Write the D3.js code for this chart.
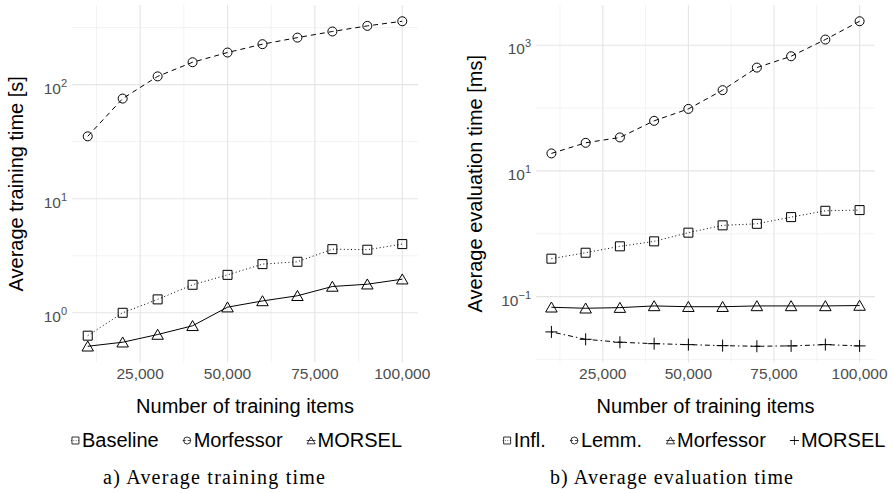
<!DOCTYPE html>
<html>
<head>
<meta charset="utf-8">
<script src="https://cdn.jsdelivr.net/npm/d3@7"></script>
<style>
  body { margin: 0; background: #fff; }
  svg { display: block; font-family: "Liberation Sans", Arial, sans-serif; }
</style>
</head>
<body>
<svg id="chart" width="893" height="493"></svg>
<script>
// Number of training items (shared x values)
const items = [10000, 20000, 30000, 40000, 50000, 60000, 70000, 80000, 90000, 100000];
const xTicks = [25000, 50000, 75000, 100000];
const xMinor = [12500, 37500, 62500, 87500];

// a) Average training time [s]
const trainBaseline = [0.63, 1.0, 1.31, 1.76, 2.15, 2.67, 2.80, 3.61, 3.57, 4.0];
const trainMorfessor = [35.2, 75.4, 118, 157, 191, 226, 258, 292, 327, 359];
const trainMorsel = [0.509, 0.552, 0.645, 0.769, 1.12, 1.27, 1.41, 1.70, 1.78, 1.97];
const trainYTicks = [0, 1, 2];          // exponents
const trainYMinor = [0.5, 1.5, 2.5];

// b) Average evaluation time [ms]
const evalInfl = [0.401, 0.499, 0.631, 0.757, 1.04, 1.36, 1.44, 1.84, 2.32, 2.38];
const evalLemm = [19.0, 28.0, 34.1, 62.7, 97, 193, 441, 668, 1232, 2410];
const evalMorfessor = [0.0676, 0.0652, 0.0667, 0.071, 0.069, 0.069, 0.071, 0.071, 0.071, 0.072];
const evalMorsel = [0.0274, 0.0209, 0.01875, 0.0178, 0.0172, 0.01656, 0.0162, 0.0164, 0.0172, 0.0164];
const evalYTicks = [-1, 1, 3];
const evalYMinor = [-2, 0, 2];

const svg = d3.select("#chart");

// marker shapes, drawn as open outlines
const shapes = {
  square: s => `M${-s},${-s}H${s}V${s}H${-s}Z`,
  circle: s => `M${s},0A${s},${s} 0 1,1 ${-s},0A${s},${s} 0 1,1 ${s},0Z`,
  triangle: s => `M0,${-s * 1.05}L${s * 1.15},${s * 0.95}L${-s * 1.15},${s * 0.95}Z`,
  plus: s => `M${-s},0H${s}M0,${-s}V${s}`
};
const dashes = { dotted: "1,2.6", dashed: "5,4", solid: null, dotdash: "1.5,3,5,3" };

function drawPanel(p) {
  const g = svg.append("g");

  // x scale with ggplot-like 5% expansion
  const xr = d3.extent(items), xpad = (xr[1] - xr[0]) * 0.05;
  const x = d3.scaleLinear().domain([xr[0] - xpad, xr[1] + xpad]).range([p.left, p.right]);

  const all = p.series.flatMap(s => s.values);
  const lr = d3.extent(all, v => Math.log10(v)), lpad = (lr[1] - lr[0]) * 0.05;
  const y = d3.scaleLog().domain([Math.pow(10, lr[0] - lpad), Math.pow(10, lr[1] + lpad)]).range([p.bottom, p.top]);

  // grid
  const grid = g.append("g");
  grid.selectAll(".xmin").data(xMinor).join("line")
    .attr("x1", d => x(d)).attr("x2", d => x(d)).attr("y1", p.top).attr("y2", p.bottom)
    .attr("stroke", "#ebebeb").attr("stroke-width", 0.6);
  grid.selectAll(".ymin").data(p.yMinor).join("line")
    .attr("y1", d => y(Math.pow(10, d))).attr("y2", d => y(Math.pow(10, d))).attr("x1", p.left).attr("x2", p.right)
    .attr("stroke", "#ebebeb").attr("stroke-width", 0.6);
  grid.selectAll(".xmaj").data(xTicks).join("line")
    .attr("x1", d => x(d)).attr("x2", d => x(d)).attr("y1", p.top).attr("y2", p.bottom)
    .attr("stroke", "#e4e4e4").attr("stroke-width", 1.1);
  grid.selectAll(".ymaj").data(p.yTicks).join("line")
    .attr("y1", d => y(Math.pow(10, d))).attr("y2", d => y(Math.pow(10, d))).attr("x1", p.left).attr("x2", p.right)
    .attr("stroke", "#e4e4e4").attr("stroke-width", 1.1);

  // x tick labels
  g.selectAll(".xlab").data(xTicks).join("text")
    .attr("x", d => x(d)).attr("y", p.bottom + 16)
    .attr("text-anchor", "middle").attr("font-size", 15.5).attr("fill", "#4d4d4d")
    .text(d3.format(","));

  // y tick labels (10^k)
  const yl = g.selectAll(".ylab").data(p.yTicks).join("text")
    .attr("y", d => y(Math.pow(10, d)) + 9)
    .attr("x", p.left - 5)
    .attr("text-anchor", "end").attr("font-size", 15.5).attr("fill", "#4d4d4d");
  yl.append("tspan").text("10");
  yl.append("tspan").attr("dy", -7).attr("font-size", 11).text(d => d < 0 ? "\u2212" + (-d) : d);

  // axis titles
  g.append("text")
    .attr("transform", `translate(${p.titleX},${(p.top + p.bottom) / 2}) rotate(-90)`)
    .attr("text-anchor", "middle").attr("font-size", 20).text(p.yTitle);
  g.append("text")
    .attr("x", (p.left + p.right) / 2).attr("y", 413)
    .attr("text-anchor", "middle").attr("font-size", 20).text("Number of training items");

  // series
  const line = d3.line().x((d, i) => x(items[i])).y(d => y(d));
  p.series.forEach(s => {
    g.append("path").datum(s.values).attr("d", line)
      .attr("fill", "none").attr("stroke", "#000").attr("stroke-width", 1)
      .attr("stroke-dasharray", dashes[s.dash]);
    g.selectAll(null).data(s.values).join("path")
      .attr("transform", (d, i) => `translate(${x(items[i])},${y(d)})`)
      .attr("d", shapes[s.shape](s.shape === "plus" ? 6 : s.shape === "triangle" ? 5 : 4.5))
      .attr("fill", "none").attr("stroke", "#000").attr("stroke-width", 1);
  });

  // legend
  const gap = 24;
  const lg = g.append("g");
  let cx = 0;
  p.series.forEach(s => {
    const it = lg.append("g").attr("transform", `translate(${cx},0)`);
    const key = it.append("g").attr("transform", "translate(4.5,-6.5)");
    key.append("line").attr("x1", -4.5).attr("x2", 4.5)
      .attr("stroke", "#000").attr("stroke-width", 0.7).attr("stroke-dasharray", s.dash === "dotted" ? "0.8,1.6" : s.dash === "dashed" ? "3,2" : null);
    key.append("path").attr("d", shapes[s.shape](s.shape === "plus" ? 4.5 : 3.5))
      .attr("fill", "none").attr("stroke", "#000").attr("stroke-width", 0.8);
    const t = it.append("text").attr("x", 11).attr("font-size", 20).text(s.name);
    cx += 11 + t.node().getComputedTextLength() + gap;
  });
  const total = cx - gap;
  lg.attr("transform", `translate(${p.legendCenter - total / 2},447)`);

  // caption
  g.append("text").attr("x", p.captionCenter).attr("y", 484)
    .attr("text-anchor", "middle").attr("font-family", "'Liberation Serif', 'Times New Roman', serif")
    .attr("font-size", 20).attr("textLength", p.captionWidth).attr("lengthAdjust", "spacing")
    .text(p.caption);
}

drawPanel({
  left: 72, right: 418, top: 5, bottom: 362.5, titleX: 23,
  yTitle: "Average training time [s]",
  yTicks: trainYTicks, yMinor: trainYMinor,
  series: [
    { name: "Baseline", values: trainBaseline, shape: "square", dash: "dotted" },
    { name: "Morfessor", values: trainMorfessor, shape: "circle", dash: "dashed" },
    { name: "MORSEL", values: trainMorsel, shape: "triangle", dash: "solid" }
  ],
  legendCenter: 236.5, captionCenter: 214, captionWidth: 222,
  caption: "a)  Average training time"
});

drawPanel({
  left: 536, right: 875, top: 5, bottom: 362.5, titleX: 481.5,
  yTitle: "Average evaluation time [ms]",
  yTicks: evalYTicks, yMinor: evalYMinor,
  series: [
    { name: "Infl.", values: evalInfl, shape: "square", dash: "dotted" },
    { name: "Lemm.", values: evalLemm, shape: "circle", dash: "dashed" },
    { name: "Morfessor", values: evalMorfessor, shape: "triangle", dash: "solid" },
    { name: "MORSEL", values: evalMorsel, shape: "plus", dash: "dotdash" }
  ],
  legendCenter: 694, captionCenter: 671.5, captionWidth: 243,
  caption: "b)  Average evaluation time"
});
</script>
</body>
</html>
